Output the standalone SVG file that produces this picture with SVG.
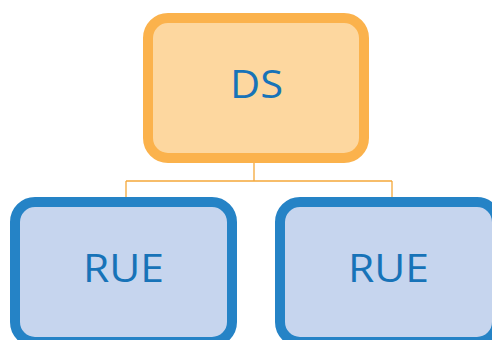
<svg xmlns="http://www.w3.org/2000/svg" width="492" height="340" viewBox="0 0 492 340">
<style>
.ds{fill:#FDD79F;stroke:#FBB24C;stroke-width:10}
.rue{fill:#C6D5EE;stroke:#2583C6;stroke-width:10}
.lbl{font-family:"Open Sans","Liberation Sans",sans-serif;font-size:38px;fill:#1773B8;text-anchor:middle}
.conn{fill:none;stroke:#F5A83A;stroke-width:1.3}
</style>
<rect width="492" height="340" fill="#FFFFFF"/>
<g id="connectors">
<path class="conn" d="M254 163 V181 M126 181 H392 M126 181 V197 M392 181 V197"/>
</g>
<g id="ds">
<rect class="ds" x="148" y="18" width="216" height="140" rx="20" ry="20"/>
<text class="lbl" x="256.5" y="98" textLength="53" lengthAdjust="spacingAndGlyphs">DS</text>
</g>
<g id="rue1">
<rect class="rue" x="15" y="202" width="217" height="140" rx="20" ry="20"/>
<text class="lbl" x="123.5" y="282" textLength="81" lengthAdjust="spacingAndGlyphs">RUE</text>
</g>
<g id="rue2">
<rect class="rue" x="280" y="202" width="217" height="140" rx="20" ry="20"/>
<text class="lbl" x="388.5" y="282" textLength="81" lengthAdjust="spacingAndGlyphs">RUE</text>
</g>
</svg>
